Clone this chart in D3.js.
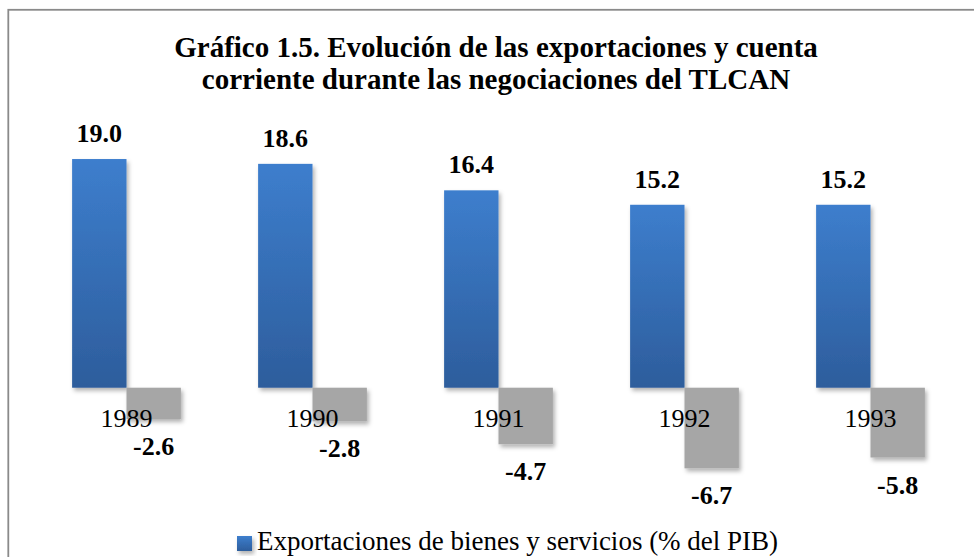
<!DOCTYPE html>
<html>
<head>
<meta charset="utf-8">
<script src="https://cdn.jsdelivr.net/npm/d3@7"></script>
<style>
html, body { margin: 0; padding: 0; background: #fff; overflow: hidden; }
svg { display: block; }
</style>
</head>
<body>
<div id="chart"></div>
<script>
var width = 974;
var height = 557;

// data
var years = ["1989", "1990", "1991", "1992", "1993"];
var exportaciones = [19.0, 18.6, 16.4, 15.2, 15.2];
var cuentaCorriente = [-2.6, -2.8, -4.7, -6.7, -5.8];
var seriesNames = ["Exportaciones de bienes y servicios (% del PIB)", "Cuenta corriente (% del PIB)"];
var titleLines = ["Gráfico 1.5. Evolución de las exportaciones y cuenta",
                  "corriente durante las negociaciones del TLCAN"];

var rows = years.map(function(y, i) {
    return {year: y, values: [exportaciones[i], cuentaCorriente[i]]};
});

var svg = d3.select("#chart").append("svg")
    .attr("width", width)
    .attr("height", height);

var defs = svg.append("defs");

var grad = defs.append("linearGradient")
    .attr("id", "blueGrad")
    .attr("x1", 0).attr("y1", 0).attr("x2", 0).attr("y2", 1);
grad.append("stop").attr("offset", "0%").attr("stop-color", "#3d7ecd");
grad.append("stop").attr("offset", "100%").attr("stop-color", "#2d5d9c");

var shadow = defs.append("filter")
    .attr("id", "shadow")
    .attr("x", "-20%").attr("y", "-20%").attr("width", "150%").attr("height", "150%");
shadow.append("feDropShadow")
    .attr("dx", 2).attr("dy", 3)
    .attr("stdDeviation", 2)
    .attr("flood-color", "#000")
    .attr("flood-opacity", 0.3);

// outer frame (runs past the right and bottom edges)
svg.append("rect")
    .attr("x", 8.3).attr("y", 9.8)
    .attr("width", 1000).attr("height", 600)
    .attr("fill", "none")
    .attr("stroke", "#8a8a8a")
    .attr("stroke-width", 1.8);

// title
svg.append("text")
    .attr("text-anchor", "middle")
    .attr("font-family", "'Liberation Serif', 'Times New Roman', serif")
    .attr("font-weight", "bold")
    .attr("font-size", 29)
    .attr("fill", "#000")
    .selectAll("tspan")
    .data(titleLines)
    .enter().append("tspan")
    .attr("x", 496)
    .attr("y", function(d, i) { return 57 + i * 31.5; })
    .text(function(d) { return d; });

// scales
var x0 = d3.scaleBand()
    .domain(years)
    .range([33.5, 963.5])
    .paddingInner(0)
    .paddingOuter(0);

var x1 = d3.scaleBand()
    .domain([0, 1])
    .range([0, x0.bandwidth()])
    .paddingInner(0)
    .paddingOuter(0.71);

var y = d3.scaleLinear()
    .domain([-8, 20])
    .range([484, 147]);

var colors = ["url(#blueGrad)", "#a6a6a6"];

var groups = svg.selectAll("g.year")
    .data(rows)
    .enter().append("g")
    .attr("class", "year")
    .attr("transform", function(d) { return "translate(" + x0(d.year) + ",0)"; });

groups.selectAll("rect")
    .data(function(d) { return d.values.map(function(v, i) { return {i: i, v: v}; }); })
    .enter().append("rect")
    .attr("x", function(d) { return x1(d.i); })
    .attr("width", x1.bandwidth())
    .attr("y", function(d) { return y(Math.max(0, d.v)); })
    .attr("height", function(d) { return Math.abs(y(d.v) - y(0)); })
    .attr("fill", function(d) { return colors[d.i]; })
    .attr("filter", "url(#shadow)");

// category axis labels (no axis line)
var xAxis = d3.axisBottom(x0).tickSize(0).tickPadding(0);
var axisG = svg.append("g")
    .attr("transform", "translate(0," + y(0) + ")")
    .call(xAxis);
axisG.select(".domain").remove();
axisG.selectAll("text")
    .attr("dy", null)
    .attr("y", 39)
    .attr("font-family", "'Liberation Serif', 'Times New Roman', serif")
    .attr("font-size", 26)
    .attr("fill", "#000");

// value labels
groups.selectAll("text.val")
    .data(function(d) { return d.values.map(function(v, i) { return {i: i, v: v}; }); })
    .enter().append("text")
    .attr("class", "val")
    .attr("text-anchor", "middle")
    .attr("x", function(d) { return x1(d.i) + x1.bandwidth() / 2; })
    .attr("y", function(d) { return d.v >= 0 ? y(d.v) - 17 : y(d.v) + 36; })
    .attr("font-family", "'Liberation Serif', 'Times New Roman', serif")
    .attr("font-weight", "bold")
    .attr("font-size", 26)
    .attr("fill", "#000")
    .text(function(d) { return d3.format(".1f")(d.v).replace("−", "-"); });

// legend (only the first entry fits inside the view)
var legend = svg.append("g").attr("transform", "translate(237,536)");
legend.append("rect")
    .attr("width", 15).attr("height", 15)
    .attr("fill", "url(#blueGrad)")
    .attr("filter", "url(#shadow)");
legend.append("text")
    .attr("x", 20).attr("y", 14)
    .attr("font-family", "'Liberation Serif', 'Times New Roman', serif")
    .attr("font-size", 27)
    .attr("fill", "#000")
    .text(seriesNames[0]);
</script>
</body>
</html>
